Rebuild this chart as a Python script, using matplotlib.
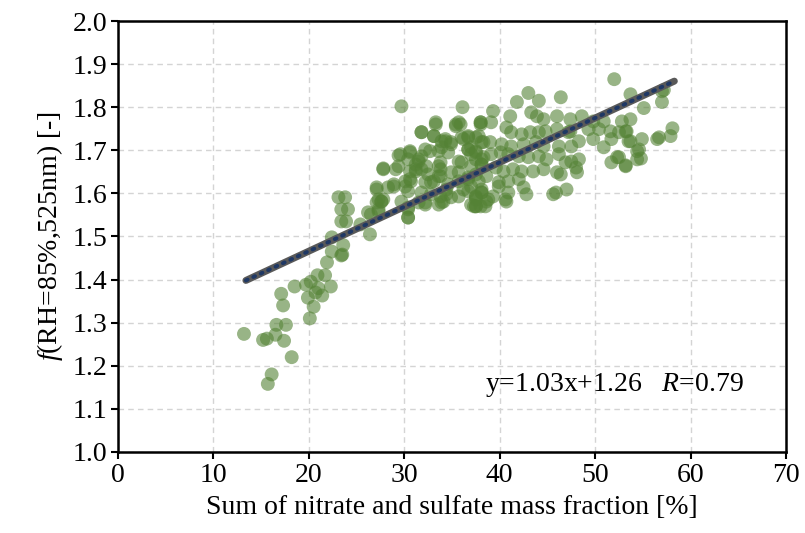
import numpy as np
import matplotlib
matplotlib.use("Agg")
import matplotlib.pyplot as plt

plt.rcParams["font.family"] = ["Liberation Serif", "DejaVu Serif"]
plt.rcParams["mathtext.fontset"] = "custom"
plt.rcParams["mathtext.rm"] = "Liberation Serif"
plt.rcParams["mathtext.it"] = "Liberation Serif:italic"

# Sum of nitrate and sulfate mass fraction [%] vs f(RH=85%,525nm)
mass_frac = [
    13.2, 15.2, 15.6, 16.1, 15.7, 16.6, 17.6, 16.5, 17.4, 18.2, 17.1, 17.3, 18.5, 19.7,
    20.1, 20.5, 19.9, 21.4, 22.3, 21.0, 20.2, 20.9, 21.7, 21.9, 22.4, 23.4, 20.7,
    22.4, 23.6, 23.5, 23.4, 24.1, 23.9, 25.4, 26.4, 26.5, 27.3, 27.6, 30.4, 30.4,
    32.2, 33.9, 37.5, 23.1, 23.8, 23.4,
    29.7, 36.1, 33.3, 31.8, 33.1, 35.4, 35.9, 38.0, 27.8, 29.4, 30.6, 30.4, 31.5,
    32.2, 33.9, 34.3, 34.9, 36.2, 37.0, 27.1, 28.9, 30.1, 30.6, 31.2, 31.8, 32.8,
    33.6, 33.8, 34.4, 27.1, 27.8, 38.0, 37.5, 38.1, 38.1, 37.0,
    33.3, 35.4, 35.7, 38.0, 31.8, 33.1, 34.3, 34.9, 33.9, 36.0, 36.7, 37.5, 38.3,
    32.7, 33.6, 34.6, 36.7, 37.5, 30.6, 29.6, 31.8, 31.5, 29.4, 31.2, 32.3, 33.8,
    33.8, 33.6, 35.7, 36.0, 37.5, 38.1, 27.8, 29.1, 30.6, 31.2, 32.5, 34.9, 35.7,
    36.7, 37.5, 30.1, 30.7, 32.2, 33.1, 34.6, 35.7, 37.0, 28.9, 28.3, 27.1, 27.3,
    27.6, 30.4, 31.8, 32.8, 33.8, 34.4, 34.9, 34.1, 33.6, 36.2, 35.7, 37.5, 38.1,
    38.5, 29.7, 30.4, 31.5, 32.2, 26.2, 27.3, 30.4, 37.0, 37.5,
    41.8, 44.1, 39.3, 41.1, 43.3, 43.9, 44.6, 46.0, 47.4, 38.0, 39.1, 40.7, 41.2,
    42.3, 43.2, 44.1, 44.8, 46.0, 47.2, 36.7, 37.8, 38.1, 39.0, 40.2, 41.2, 42.5,
    43.8, 44.6, 46.2, 47.5, 36.7, 37.5, 38.3, 39.1, 40.1, 40.9, 42.0, 43.0, 44.1,
    44.9, 46.2, 46.9, 47.5, 37.0, 38.1, 39.6, 40.4, 41.4, 42.3, 43.5, 44.6, 46.0,
    46.4, 36.7, 37.8, 38.6, 39.9, 40.9, 42.0, 42.5, 42.8, 36.7, 38.1, 39.3, 37.5,
    38.6, 40.6, 45.6, 47.0, 37.3, 40.9, 38.8, 40.7, 39.9,
    52.0, 53.7, 46.4, 43.0, 48.6, 49.8, 50.9, 52.8, 53.7, 49.3, 50.4, 51.6, 52.5,
    53.3, 48.3, 49.8, 51.7, 53.7, 50.9, 54.4, 51.7, 53.2, 52.3, 54.4, 48.0, 48.1,
    48.3, 45.9, 47.4,
    57.0, 57.2, 57.0, 55.1, 53.2, 53.5, 54.9, 56.5, 56.7, 57.9, 58.1, 54.6, 54.8,
    52.5, 53.2,
]
f_rh = [
    1.274, 1.260, 1.263, 1.180, 1.158, 1.295, 1.295, 1.272, 1.258, 1.220, 1.367, 1.340, 1.384, 1.388,
    1.310, 1.337, 1.358, 1.363, 1.384, 1.380, 1.395, 1.410, 1.410, 1.440, 1.465, 1.456, 1.370,
    1.498, 1.480, 1.458, 1.563, 1.563, 1.535, 1.528, 1.505, 1.551, 1.558, 1.581, 1.544, 1.567,
    1.579, 1.579, 1.570, 1.591, 1.591, 1.535,
    1.802, 1.800, 1.765, 1.742, 1.733, 1.756, 1.760, 1.765, 1.658, 1.688, 1.698, 1.679, 1.679,
    1.702, 1.721, 1.726, 1.714, 1.726, 1.691, 1.609, 1.616, 1.616, 1.633, 1.656, 1.656, 1.626,
    1.663, 1.640, 1.609, 1.579, 1.586, 1.570, 1.593, 1.609, 1.679, 1.707,
    1.760, 1.760, 1.765, 1.760, 1.742, 1.733, 1.721, 1.719, 1.707, 1.730, 1.733, 1.730, 1.719,
    1.698, 1.698, 1.695, 1.702, 1.698, 1.695, 1.691, 1.686, 1.674, 1.663, 1.667, 1.663, 1.672,
    1.656, 1.640, 1.674, 1.672, 1.679, 1.667, 1.656, 1.656, 1.651, 1.651, 1.644, 1.649, 1.649,
    1.637, 1.644, 1.628, 1.628, 1.626, 1.628, 1.621, 1.628, 1.616, 1.621, 1.614, 1.614, 1.586,
    1.581, 1.605, 1.602, 1.598, 1.593, 1.598, 1.591, 1.581, 1.574, 1.609, 1.593, 1.591, 1.602,
    1.570, 1.581, 1.563, 1.579, 1.574, 1.556, 1.563, 1.544, 1.574, 1.570,
    1.812, 1.815, 1.791, 1.779, 1.788, 1.779, 1.772, 1.779, 1.772, 1.765, 1.765, 1.753, 1.742,
    1.737, 1.742, 1.742, 1.744, 1.749, 1.742, 1.730, 1.733, 1.719, 1.719, 1.714, 1.709, 1.714,
    1.719, 1.709, 1.709, 1.709, 1.702, 1.695, 1.684, 1.691, 1.695, 1.691, 1.686, 1.684, 1.686,
    1.679, 1.691, 1.672, 1.674, 1.663, 1.667, 1.660, 1.651, 1.656, 1.651, 1.651, 1.656, 1.649,
    1.644, 1.633, 1.628, 1.640, 1.626, 1.628, 1.633, 1.614, 1.598, 1.605, 1.602, 1.593, 1.586,
    1.581, 1.586, 1.598, 1.609, 1.570, 1.602, 1.586, 1.581, 1.616,
    1.865, 1.830, 1.823, 1.833, 1.779, 1.767, 1.767, 1.767, 1.772, 1.749, 1.749, 1.744, 1.742,
    1.744, 1.721, 1.726, 1.726, 1.721, 1.707, 1.698, 1.672, 1.665, 1.684, 1.679, 1.660, 1.649,
    1.679, 1.602, 1.744,
    1.837, 1.840, 1.812, 1.798, 1.744, 1.721, 1.726, 1.726, 1.730, 1.733, 1.751, 1.702, 1.681,
    1.684, 1.663,
]

# linear fit reported on the chart: y = 1.03x + 1.26 (x as fraction)
slope = 1.03
intercept = 1.26
r_value = 0.79

x = np.array(mass_frac)
y = np.array(f_rh)
fit_x = np.array([13.4, 58.3])
fit_y = slope * fit_x / 100 + intercept

fig = plt.figure(figsize=(8.05, 5.33), dpi=100)
ax = fig.add_axes([0.1466, 0.152, 0.8298, 0.8086])

ax.scatter(x, y, s=100, color="#548235", alpha=0.6, edgecolors="none", zorder=3)
ax.plot(fit_x, fit_y, color="#595959", lw=5, solid_capstyle="round", zorder=4)
ax.plot(fit_x, fit_y, color="#1f3864", lw=2.8, linestyle=(0, (0.5, 1.6)),
        dash_capstyle="round", zorder=5)

ax.set_xlim(0, 70)
ax.set_ylim(1.0, 2.0)
ax.set_xticks(np.arange(0, 71, 10))
ax.set_yticks(np.arange(1.0, 2.01, 0.1))
ax.set_yticklabels([f"{v:.1f}" for v in np.arange(1.0, 2.01, 0.1)])
ax.grid(True, color="#d4d4d4", linestyle=(0, (4, 3)), linewidth=1, zorder=0)
ax.set_axisbelow(True)

for sp in ax.spines.values():
    sp.set_linewidth(1.8)
    sp.set_color("black")
ax.tick_params(direction="out", length=5, width=1.5, labelsize=20, pad=3)

ax.set_xlabel("Sum of nitrate and sulfate mass fraction [%]", fontsize=20, labelpad=5)
ax.set_ylabel(r"$\it{f}$(RH=85%,525nm) [-]", fontsize=20, labelpad=5)

ax.text(38.5, 1.156, r"y=1.03x+1.26   $\it{R}$=" + f"{r_value:.2f}", fontsize=20,
        va="center", ha="left")

plt.savefig("out.png", dpi=100)
